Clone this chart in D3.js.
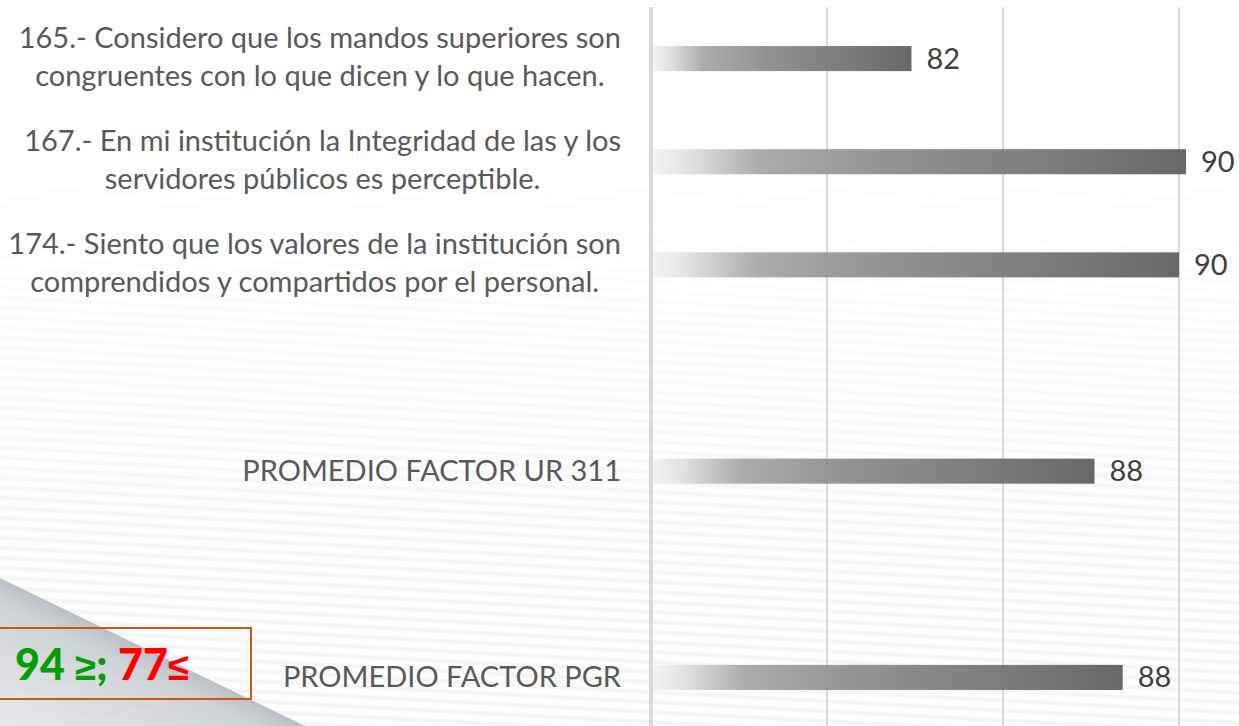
<!DOCTYPE html>
<html>
<head>
<meta charset="utf-8">
<script src="https://cdn.jsdelivr.net/npm/d3@7"></script>
<style>
html, body { margin: 0; padding: 0; overflow: hidden; background: #fff; }
svg { display: block; }
text { font-family: Lato, "Open Sans", sans-serif; }
</style>
</head>
<body>
<svg id="chart" width="1239" height="726"></svg>
<script>
// rows top to bottom, blank rows are empty slots in the original sheet
const categories = [
	'165.- Considero que los mandos superiores son\ncongruentes con lo que dicen y lo que hacen.',
	'167.- En mi institución la Integridad de las y los\nservidores públicos es perceptible.',
	'174.- Siento que los valores de la institución son\ncomprendidos y compartidos por el personal.',
	'',
	'PROMEDIO FACTOR UR 311',
	'',
	'PROMEDIO FACTOR PGR'
]
const values = [82.4, 90.2, 90.0, null, 87.6, null, 88.4]
const xDomain = [75, 95]
const gridTicks = [80, 85, 90, 95]
const legendText = ['94 ≥; ', '77≤']

const W = 1239, H = 726
const svg = d3.select('#chart')
const defs = svg.append('defs')

// ---- background
const stripes = defs.append('pattern')
	.attr('id', 'stripes').attr('patternUnits', 'userSpaceOnUse')
	.attr('width', 40).attr('height', 10)
	.attr('patternTransform', 'rotate(3)')
stripes.append('rect').attr('width', 40).attr('height', 10).attr('fill', '#fcfcfc')
stripes.append('rect').attr('y', 5).attr('width', 40).attr('height', 4).attr('fill', '#efefef')

const fade = defs.append('linearGradient').attr('id', 'fade')
	.attr('x1', 0).attr('y1', 0).attr('x2', 0).attr('y2', 1)
fade.append('stop').attr('offset', 0).attr('stop-color', '#fff').attr('stop-opacity', 0.97)
fade.append('stop').attr('offset', 0.35).attr('stop-color', '#fff').attr('stop-opacity', 0.8)
fade.append('stop').attr('offset', 0.7).attr('stop-color', '#fff').attr('stop-opacity', 0.45)
fade.append('stop').attr('offset', 1).attr('stop-color', '#fff').attr('stop-opacity', 0.35)

svg.append('rect').attr('width', W).attr('height', H).attr('fill', 'url(#stripes)')
svg.append('rect').attr('width', W).attr('height', H).attr('fill', 'url(#fade)')

const fold = defs.append('linearGradient').attr('id', 'fold')
	.attr('gradientUnits', 'userSpaceOnUse')
	.attr('x1', 150).attr('y1', 651).attr('x2', 85).attr('y2', 786)
fold.append('stop').attr('offset', 0).attr('stop-color', '#b1b5bc')
fold.append('stop').attr('offset', 0.15).attr('stop-color', '#c8cbd1')
fold.append('stop').attr('offset', 1).attr('stop-color', '#e8eaed')

svg.append('path')
	.attr('d', 'M0,578L305,726L0,726Z')
	.attr('fill', 'url(#fold)')
	.attr('opacity', 0.85)

// ---- chart
const x = d3.scaleLinear().domain(xDomain).range([651, 1355])
const y = d3.scaleBand()
	.domain(d3.range(categories.length))
	.range([7, 729])
	.paddingInner(0.757)
	.paddingOuter(0.757 / 2)

const barFill = defs.append('linearGradient').attr('id', 'barFill')
	.attr('x1', 0).attr('y1', 0).attr('x2', 1).attr('y2', 0)
;[[0, '#f4f4f4'], [0.07, '#e0e0e0'], [0.2, '#a6a6a6'], [0.45, '#8a8a8a'], [1, '#5d5d5d']]
	.forEach(([o, c]) => barFill.append('stop').attr('offset', o).attr('stop-color', c))

svg.append('g')
	.selectAll('line')
	.data(gridTicks)
	.join('line')
	.attr('x1', d => x(d)).attr('x2', d => x(d))
	.attr('y1', 7).attr('y2', H)
	.attr('stroke', '#d9d9d9').attr('stroke-width', 2)

const rows = categories.map((c, i) => ({label: c, value: values[i], i}))
const withValue = rows.filter(d => d.value != null)

svg.append('g')
	.selectAll('rect')
	.data(withValue)
	.join('rect')
	.attr('x', x(xDomain[0]))
	.attr('y', d => y(d.i))
	.attr('width', d => x(d.value) - x(xDomain[0]))
	.attr('height', y.bandwidth())
	.attr('fill', 'url(#barFill)')
	.attr('fill-opacity', 0.93)

// category axis line
svg.append('line')
	.attr('x1', x(xDomain[0])).attr('x2', x(xDomain[0]))
	.attr('y1', 7).attr('y2', H)
	.attr('stroke', '#d9d9d9').attr('stroke-width', 4)

const fmt = d3.format('.0f')
svg.append('g')
	.selectAll('text')
	.data(withValue)
	.join('text')
	.attr('x', d => x(d.value) + 15)
	.attr('y', d => y(d.i) + y.bandwidth() / 2 + 10)
	.attr('fill', '#404040')
	.style('font-size', '29px')
	.text(d => fmt(d.value))

// category labels, wrapped lines centred in a right-aligned block
const lineH = 38
const labelRight = x(xDomain[0]) - 30
rows.filter(d => d.label).forEach(d => {
	const lines = d.label.split('\n')
	const cy = y(d.i) + y.bandwidth() / 2
	const g = svg.append('g')
	const ts = lines.map((l, k) => g.append('text')
		.attr('y', cy + (k - (lines.length - 1) / 2) * lineH + 10 - (lines.length - 1) * 2)
		.attr('text-anchor', 'middle')
		.attr('fill', '#595959')
		.style('font-size', '29px')
		.text(l))
	const maxW = d3.max(ts, t => t.node().getComputedTextLength())
	ts.forEach(t => t.attr('x', labelRight - maxW / 2))
})

// ---- threshold box
svg.append('rect')
	.attr('x', -2).attr('y', 628).attr('width', 253).attr('height', 71)
	.attr('fill', 'none').attr('stroke', '#c55a11').attr('stroke-width', 2)

const legendColors = ['#00a000', '#ff0000']
const legend = svg.append('text')
	.attr('x', 15).attr('y', 680)
	.style('font-size', '43px').style('font-weight', 900)
legendText.forEach((part, k) => {
	// the comparison signs come from a font that draws them full size
	part.split(/([≥≤])/).filter(s => s).forEach(s => {
		const t = legend.append('tspan').attr('fill', legendColors[k]).text(s)
		if (/[≥≤]/.test(s)) t.style('font-family', '"Liberation Sans", sans-serif').style('font-size', '38px').style('font-weight', 700)
	})
})
</script>
</body>
</html>
